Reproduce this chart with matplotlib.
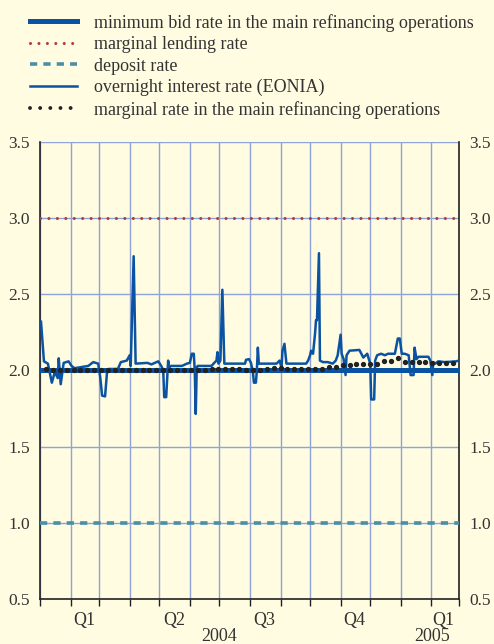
import numpy as np
import pandas as pd
import matplotlib
matplotlib.use("Agg")
import matplotlib.pyplot as plt
import matplotlib.dates as mdates
import matplotlib.transforms as mtransforms
from matplotlib.lines import Line2D

plt.rcParams['font.family'] = ['Liberation Serif', 'DejaVu Serif']

# key ECB rates (flat over the period)
min_bid_rate = 2.00
marginal_lending_rate = 3.00
deposit_rate = 1.00

# EONIA
eonia_dates = [
    "2004-01-02", "2004-01-05", "2004-01-09", "2004-01-13", "2004-01-16", "2004-01-19",
    "2004-01-20", "2004-01-22", "2004-01-25", "2004-01-30", "2004-02-02", "2004-02-05",
    "2004-02-19", "2004-02-24", "2004-02-29", "2004-03-02", "2004-03-04", "2004-03-07",
    "2004-03-09", "2004-03-11", "2004-03-20", "2004-03-23", "2004-03-29", "2004-04-01",
    "2004-04-02", "2004-04-05", "2004-04-07", "2004-04-19", "2004-04-23", "2004-04-30",
    "2004-05-03", "2004-05-05", "2004-05-06", "2004-05-08", "2004-05-10", "2004-05-11",
    "2004-05-13", "2004-05-24", "2004-05-29", "2004-06-01", "2004-06-03", "2004-06-05",
    "2004-06-06", "2004-06-07", "2004-06-08", "2004-06-09", "2004-06-23", "2004-06-25",
    "2004-06-28", "2004-06-29", "2004-06-30", "2004-07-02", "2004-07-04", "2004-07-06",
    "2004-07-27", "2004-07-28", "2004-07-31", "2004-08-02", "2004-08-04", "2004-08-05",
    "2004-08-07", "2004-08-08", "2004-08-09", "2004-08-10", "2004-08-28", "2004-08-31",
    "2004-09-02", "2004-09-03", "2004-09-05", "2004-09-07", "2004-09-27", "2004-09-29",
    "2004-10-01", "2004-10-02", "2004-10-04", "2004-10-06", "2004-10-07", "2004-10-08",
    "2004-10-10", "2004-10-11", "2004-10-14", "2004-10-19", "2004-10-24", "2004-10-27",
    "2004-10-29", "2004-11-01", "2004-11-02", "2004-11-04", "2004-11-06", "2004-11-07",
    "2004-11-10", "2004-11-20", "2004-11-24", "2004-11-28", "2004-12-01", "2004-12-02",
    "2004-12-05", "2004-12-06", "2004-12-08", "2004-12-12", "2004-12-16", "2004-12-19",
    "2004-12-26", "2004-12-29", "2004-12-31", "2005-01-02", "2005-01-05", "2005-01-09",
    "2005-01-11", "2005-01-14", "2005-01-15", "2005-01-17", "2005-01-19", "2005-01-29",
    "2005-01-31", "2005-02-02", "2005-02-03", "2005-02-05", "2005-02-08", "2005-02-15",
    "2005-02-26", "2005-03-01",
]
eonia = [
    2.32, 2.06, 2.045, 1.92, 1.99, 1.95,
    2.08, 1.91, 2.05, 2.06, 2.03, 2.015,
    2.03, 2.055, 2.045, 1.96, 1.835, 1.83,
    1.99, 2.01, 2.01, 2.055, 2.065, 2.10,
    2.03, 2.75, 2.045, 2.05, 2.04, 2.06,
    2.03, 2.00, 1.825, 1.825, 2.065, 2.02,
    2.03, 2.03, 2.045, 2.05, 2.11, 2.11,
    2.00, 1.715, 2.02, 2.03, 2.03, 2.045,
    2.065, 2.12, 2.045, 2.065, 2.53, 2.045,
    2.045, 2.07, 2.075, 2.05, 1.99, 1.92,
    1.92, 2.00, 2.15, 2.045, 2.045, 2.065,
    2.02, 2.13, 2.175, 2.045, 2.045, 2.065,
    2.10, 2.13, 2.11, 2.24, 2.33, 2.33,
    2.77, 2.065, 2.055, 2.055, 2.045, 2.065,
    2.10, 2.235, 2.11, 2.075, 1.97, 2.10,
    2.13, 2.135, 2.085, 2.11, 2.045, 1.81,
    1.81, 2.065, 2.10, 2.11, 2.10, 2.11,
    2.11, 2.21, 2.21, 2.11, 2.11, 2.10,
    1.97, 1.97, 2.15, 2.075, 2.09, 2.09,
    2.065, 1.97, 2.055, 2.045, 2.06, 2.055,
    2.06, 2.065,
]

# marginal rate in the weekly main refinancing operations
mro_dates = pd.date_range("2004-01-07", periods=60, freq="7D")
mro_marginal = [
    2.01, 2.00, 2.00, 2.00, 2.00, 2.00, 2.00, 2.00, 2.00, 2.00,
    2.00, 2.00, 2.00, 2.00, 2.00, 2.00, 2.00, 2.00, 2.00, 2.00,
    2.00, 2.00, 2.00, 2.00, 2.01, 2.01, 2.01, 2.01, 2.01, 2.005,
    2.005, 2.005, 2.01, 2.015, 2.015, 2.01, 2.01, 2.01, 2.01, 2.01,
    2.01, 2.025, 2.025, 2.035, 2.035, 2.045, 2.045, 2.045, 2.045, 2.065,
    2.065, 2.08, 2.055, 2.055, 2.055, 2.055, 2.05, 2.05, 2.05, 2.05,
]

quarter_labels = ["Q1", "Q2", "Q3", "Q4", "Q1"]
quarter_pos = ["2004-02-15", "2004-05-16", "2004-08-15", "2004-11-15", "2005-02-13"]
year_labels = ["2004", "2005"]
year_pos = ["2004-07-01", "2005-02-02"]

bg = '#fffce1'
grid_c = '#8fa3d8'
blue = '#0a52a2'
txt_c = '#333333'
fs = 13

fig = plt.figure(figsize=(4.94, 6.44), dpi=100, facecolor=bg)
ax = fig.add_axes([0.081, 0.0699, 0.848, 0.7096], facecolor=bg)

start, end = pd.Timestamp("2004-01-01"), pd.Timestamp("2005-03-01")
ed = pd.to_datetime(eonia_dates)

ax.plot([start, end], [marginal_lending_rate] * 2, color='#b23a3a', lw=2.2,
        dashes=(0.01, 2.75), dash_capstyle='round', zorder=4)
ax.plot([start, end], [deposit_rate] * 2, color='#4a8ea8', lw=2.6,
        dashes=(2.0, 1.7), zorder=4)
ax.plot([start, end], [min_bid_rate] * 2, color=blue, lw=3.6, zorder=3)
ax.plot(ed, eonia, color=blue, lw=1.8, zorder=4)
ax.plot(mro_dates, mro_marginal, linestyle='none', marker='o', ms=2.8,
        color='#222222', zorder=5)

ax.set_xlim(start, end)
ax.set_ylim(0.5, 3.5)
ax.set_yticks(np.arange(0.5, 3.51, 0.5))
ax.yaxis.set_major_formatter(matplotlib.ticker.FormatStrFormatter('%.1f'))
ax.tick_params(axis='y', which='both', left=False, right=False,
               labelleft=True, labelright=True, labelsize=12.5,
               labelcolor=txt_c, pad=4)

ax.xaxis.set_major_locator(mdates.MonthLocator())
ax.xaxis.set_major_formatter(matplotlib.ticker.NullFormatter())
ax.tick_params(axis='x', which='major', direction='out', length=5,
               width=1, color='#222222')

ax.grid(True, axis='both', color=grid_c, lw=1.0, zorder=0)
ax.set_axisbelow(True)

for s in ['left', 'right', 'bottom']:
    ax.spines[s].set_color('#222222')
    ax.spines[s].set_linewidth(1.2)
ax.spines['top'].set_visible(False)

tr = mtransforms.blended_transform_factory(ax.transData, ax.transAxes)
for lab, p in zip(quarter_labels, quarter_pos):
    ax.text(pd.Timestamp(p), -0.046, lab, transform=tr, ha='center', va='center',
            fontsize=fs, color=txt_c)
for lab, p in zip(year_labels, year_pos):
    ax.text(pd.Timestamp(p), -0.083, lab, transform=tr, ha='center', va='center',
            fontsize=fs, color=txt_c)

handles = [
    Line2D([], [], color=blue, lw=3.6),
    Line2D([], [], color='#b23a3a', lw=2.2, dashes=(0.01, 2.75), dash_capstyle='round'),
    Line2D([], [], color='#4a8ea8', lw=2.6, dashes=(2.0, 1.7)),
    Line2D([], [], color=blue, lw=1.8),
    Line2D([], [], color='#222222', lw=2.8, dashes=(0.01, 2.6), dash_capstyle='round'),
]
labels = [
    "minimum bid rate in the main refinancing operations",
    "marginal lending rate",
    "deposit rate",
    "overnight interest rate (EONIA)",
    "marginal rate in the main refinancing operations",
]
fig.legend(handles, labels, loc='upper left', bbox_to_anchor=(0.047, 0.99),
           frameon=False, fontsize=fs, handlelength=2.6, handletextpad=0.9,
           labelspacing=0.25, borderaxespad=0, labelcolor=txt_c)

fig.savefig("out.png", dpi=100, facecolor=bg)
